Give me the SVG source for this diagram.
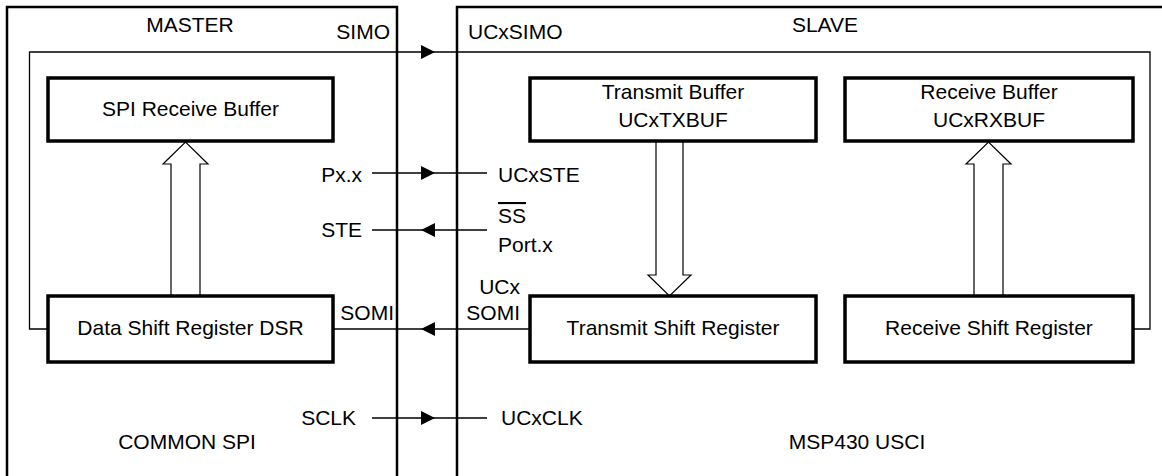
<svg xmlns="http://www.w3.org/2000/svg" width="1162" height="476" viewBox="0 0 1162 476">
<style>
text{font-family:"Liberation Sans",Arial,sans-serif;font-size:21px;fill:#000}
.c{text-anchor:middle}
.outer{fill:none;stroke:#000;stroke-width:2.5}
.box{fill:#fff;stroke:#000;stroke-width:3.5}
.wire{fill:none;stroke:#000;stroke-width:1.3}
.hollow{fill:#fff;stroke:#000;stroke-width:1.2;stroke-linejoin:miter}
.ah{fill:#000}
</style>
<defs>
<path id="ahR" d="M-14,-7 L0,0 L-14,7 Z"/>
<path id="ahL" d="M14,-7 L0,0 L14,7 Z"/>
</defs>
<rect width="1162" height="476" fill="#fff"/>
<g id="master">
<path class="outer" d="M7,480 V7 H397 V480"/>
<text class="c" x="190" y="32">MASTER</text>
<text class="c" x="187" y="449">COMMON SPI</text>
</g>
<g id="slave">
<path class="outer" d="M457,480 V7 H1170"/>
<text class="c" x="825" y="32">SLAVE</text>
<text class="c" x="857" y="449">MSP430 USCI</text>
</g>
<g id="connectors">
<path class="wire" d="M48,329 H29.5 V52 H1150 V329 H1133"/>
<use href="#ahR" class="ah" x="435" y="52"/>
<path class="wire" d="M333,329 H530"/>
<use href="#ahL" class="ah" x="421" y="329"/>
<path class="wire" d="M372,173 H487"/>
<use href="#ahR" class="ah" x="435" y="173"/>
<path class="wire" d="M372,230 H487"/>
<use href="#ahL" class="ah" x="421" y="230"/>
<path class="wire" d="M372,418 H487"/>
<use href="#ahR" class="ah" x="435" y="418"/>
<polygon class="hollow" points="171,296 171,164 163,164 185.5,142 208,164 200,164 200,296"/>
<polygon class="hollow" points="656,141 656,275 648,275 669.5,296 691,275 683,275 683,141"/>
<polygon class="hollow" points="974,296 974,164 966,164 988.5,142 1011,164 1003,164 1003,296"/>
</g>
<g id="labels">
<text x="390" y="39" text-anchor="end">SIMO</text>
<text x="468" y="39">UCxSIMO</text>
<text x="362" y="182" text-anchor="end">Px.x</text>
<text x="498" y="182">UCxSTE</text>
<text x="362" y="237" text-anchor="end">STE</text>
<text x="498" y="223" style="text-decoration:overline">SS</text>
<text x="498" y="252">Port.x</text>
<text x="394" y="320" text-anchor="end">SOMI</text>
<text x="520" y="294" text-anchor="end">UCx</text>
<text x="520" y="320" text-anchor="end">SOMI</text>
<text x="356" y="425" text-anchor="end">SCLK</text>
<text x="501" y="425">UCxCLK</text>
</g>
<g id="spi-rx-buf">
<rect class="box" x="48" y="78" width="285" height="63"/>
<text class="c" x="190.5" y="116">SPI Receive Buffer</text>
</g>
<g id="dsr">
<rect class="box" x="48" y="296" width="285" height="66"/>
<text class="c" x="190.5" y="335">Data Shift Register DSR</text>
</g>
<g id="tx-buf">
<rect class="box" x="530" y="78" width="286" height="63"/>
<text class="c" x="673" y="99">Transmit Buffer</text>
<text class="c" x="673" y="127">UCxTXBUF</text>
</g>
<g id="rx-buf">
<rect class="box" x="845" y="78" width="288" height="63"/>
<text class="c" x="989" y="99">Receive Buffer</text>
<text class="c" x="989" y="127">UCxRXBUF</text>
</g>
<g id="tsr">
<rect class="box" x="530" y="296" width="286" height="66"/>
<text class="c" x="673" y="335">Transmit Shift Register</text>
</g>
<g id="rsr">
<rect class="box" x="845" y="296" width="288" height="66"/>
<text class="c" x="989" y="335">Receive Shift Register</text>
</g>
</svg>
